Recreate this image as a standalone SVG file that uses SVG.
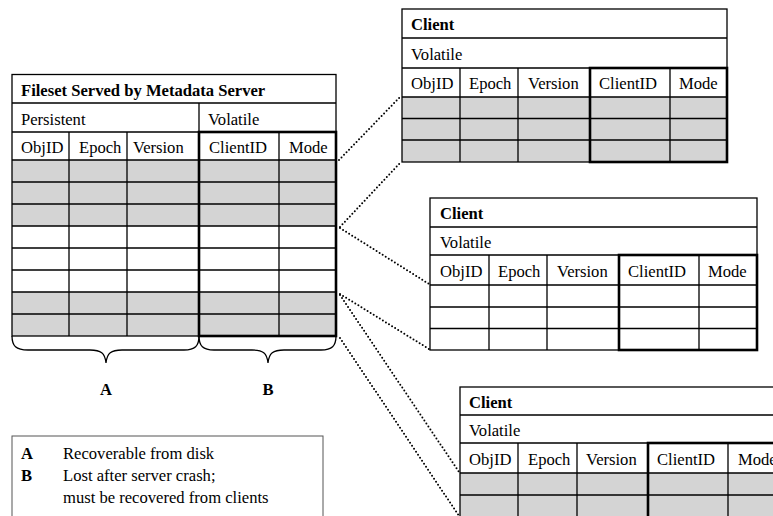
<svg xmlns="http://www.w3.org/2000/svg" width="773" height="516" viewBox="0 0 773 516">
<style>
.bg{fill:#fff}
.g{fill:#d4d4d4}
.ln{stroke:#000;stroke-width:1.3;fill:none}
.tk{stroke:#000;stroke-width:2.6;fill:none}
.t{font-family:"Liberation Serif","Times New Roman",serif;font-size:16.6px;fill:#000}
.b{font-weight:bold}
.dot{stroke:#000;stroke-width:2;stroke-linecap:round;stroke-dasharray:0 3.6;fill:none}
.br{stroke:#000;stroke-width:1.3;fill:none}
.lg{stroke:#555;stroke-width:1;fill:#fff}
</style>

<g id="connectors">
<line class="dot" x1="339" y1="160" x2="400" y2="97"/>
<line class="dot" x1="340" y1="227" x2="401" y2="162"/>
<line class="dot" x1="340" y1="228" x2="429" y2="284"/>
<line class="dot" x1="340" y1="294" x2="429" y2="349"/>
<line class="dot" x1="340" y1="295" x2="459" y2="472"/>
<line class="dot" x1="340" y1="338" x2="459" y2="516"/>
</g>

<g id="server">
<rect class="bg" x="12" y="74.5" width="324" height="261.5"/>
<rect class="g" x="12" y="160" width="324" height="66"/>
<rect class="g" x="12" y="292" width="324" height="44"/>
<rect class="ln" x="12" y="74.5" width="324" height="261.5"/>
<path class="ln" d="M12,103H336M12,132H336M12,160H336M12,182H336M12,204H336M12,226H336M12,248H336M12,270H336M12,292H336M12,314H336"/>
<path class="ln" d="M199,103V132M69,132V336M127,132V336M279,132V336"/>
<rect class="tk" x="199" y="132" width="137" height="204"/>
<text class="t b" x="21" y="96">Fileset Served by Metadata Server</text>
<text class="t" x="21" y="125">Persistent</text>
<text class="t" x="208" y="125">Volatile</text>
<text class="t" x="21" y="153">ObjID</text>
<text class="t" x="79" y="153">Epoch</text>
<text class="t" x="133" y="153">Version</text>
<text class="t" x="209" y="153">ClientID</text>
<text class="t" x="289" y="153">Mode</text>
</g>

<g id="braces">
<path class="br" d="M12,336C12,346 16,350 28,350L90,350C101,350 105,353 106,363C107,353 111,350 122,350L184,350C195,350 199,346 199,336"/>
<path class="br" d="M199,336C199,346 203,350 214,350L252,350C263,350 267,353 268,363C269,353 273,350 284,350L321,350C332,350 336,346 336,336"/>
<text class="t b" x="106" y="395" text-anchor="middle">A</text>
<text class="t b" x="268" y="395" text-anchor="middle">B</text>
</g>

<g id="legend">
<rect class="lg" x="12" y="436" width="311" height="90"/>
<text class="t b" x="21" y="459">A</text>
<text class="t" x="63" y="459">Recoverable from disk</text>
<text class="t b" x="21" y="481">B</text>
<text class="t" x="63" y="481">Lost after server crash;</text>
<text class="t" x="63" y="503">must be recovered from clients</text>
</g>

<g id="client1">
<rect class="bg" x="402" y="9" width="325" height="153"/>
<rect class="g" x="402" y="97" width="325" height="65"/>
<rect class="ln" x="402" y="9" width="325" height="153"/>
<path class="ln" d="M402,38H727M402,68H727M402,97H727M402,118.5H727M402,140H727"/>
<path class="ln" d="M460,68V162M518,68V162M670,68V162"/>
<rect class="tk" x="590" y="68" width="137" height="94"/>
<text class="t b" x="411" y="30">Client</text>
<text class="t" x="411" y="60">Volatile</text>
<text class="t" x="411" y="89">ObjID</text>
<text class="t" x="469" y="89">Epoch</text>
<text class="t" x="528" y="89">Version</text>
<text class="t" x="599" y="89">ClientID</text>
<text class="t" x="679" y="89">Mode</text>
</g>

<g id="client2">
<rect class="bg" x="430" y="198" width="327" height="152"/>
<rect class="ln" x="430" y="198" width="327" height="152"/>
<path class="ln" d="M430,227H757M430,255H757M430,285H757M430,307H757M430,328.5H757"/>
<path class="ln" d="M489,255V350M547,255V350M699,255V350"/>
<rect class="tk" x="619" y="255" width="138" height="95"/>
<text class="t b" x="440" y="219">Client</text>
<text class="t" x="440" y="248">Volatile</text>
<text class="t" x="440" y="277">ObjID</text>
<text class="t" x="498" y="277">Epoch</text>
<text class="t" x="557" y="277">Version</text>
<text class="t" x="628" y="277">ClientID</text>
<text class="t" x="708" y="277">Mode</text>
</g>

<g id="client3">
<rect class="bg" x="460" y="387" width="325" height="152"/>
<rect class="g" x="460" y="473" width="325" height="66"/>
<rect class="ln" x="460" y="387" width="325" height="152"/>
<path class="ln" d="M460,415H785M460,443H785M460,473H785M460,495H785M460,517H785"/>
<path class="ln" d="M518,443V539M577,443V539M728,443V539"/>
<rect class="tk" x="648" y="443" width="137" height="96"/>
<text class="t b" x="469" y="408">Client</text>
<text class="t" x="469" y="436">Volatile</text>
<text class="t" x="469" y="465">ObjID</text>
<text class="t" x="528" y="465">Epoch</text>
<text class="t" x="586" y="465">Version</text>
<text class="t" x="657" y="465">ClientID</text>
<text class="t" x="738" y="465">Mode</text>
</g>
</svg>
